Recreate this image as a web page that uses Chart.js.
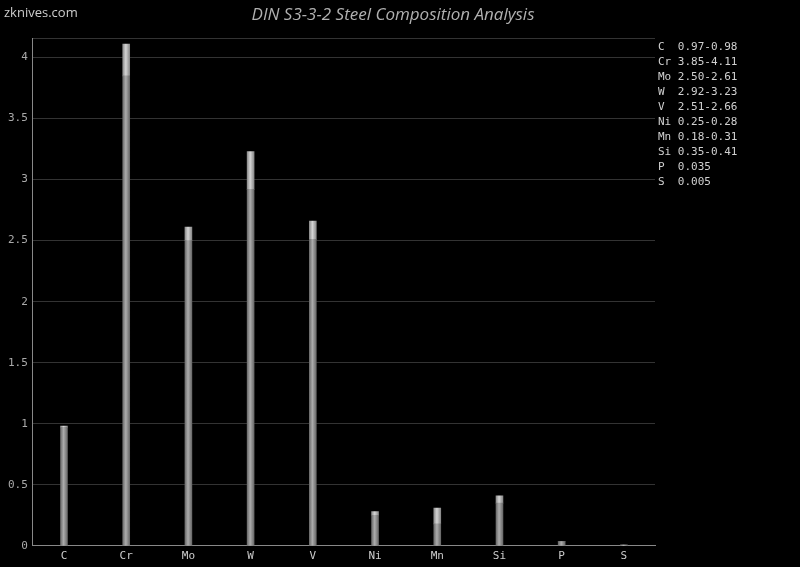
<!DOCTYPE html>
<html>
<head>
<meta charset="utf-8">
<script src="https://cdn.jsdelivr.net/npm/chart.js@4"></script>
<style>
  html, body { margin: 0; padding: 0; background: #000; }
  #wrap { width: 800px; height: 567px; }
</style>
</head>
<body>
<div id="wrap"><canvas id="steelChart"></canvas></div>
<script>
const elements = ["C", "Cr", "Mo", "W", "V", "Ni", "Mn", "Si", "P", "S"];
const minValues = [0.97, 3.85, 2.50, 2.92, 2.51, 0.25, 0.18, 0.35, 0.035, 0.005];
const maxValues = [0.98, 4.11, 2.61, 3.23, 2.66, 0.28, 0.31, 0.41, 0.035, 0.005];
const rangeText = ["0.97-0.98", "3.85-4.11", "2.50-2.61", "2.92-3.23", "2.51-2.66",
  "0.25-0.28", "0.18-0.31", "0.35-0.41", "0.035", "0.005"];

const MONO = "'DejaVu Sans Mono', monospace";

// cylinder-like horizontal gradient for each bar
function barGradient(context, light) {
  const chart = context.chart;
  if (!chart.chartArea) return light ? "#bbb" : "#888";
  const x = chart.scales.x.getPixelForValue(context.dataIndex);
  const g = chart.ctx.createLinearGradient(x - 4, 0, x + 4, 0);
  if (light) {
    g.addColorStop(0, "#808080");
    g.addColorStop(0.45, "#d4d4d4");
    g.addColorStop(1, "#808080");
  } else {
    g.addColorStop(0, "#606060");
    g.addColorStop(0.45, "#acacac");
    g.addColorStop(1, "#606060");
  }
  return g;
}

const overlay = {
  id: "overlay",
  afterDraw(chart) {
    const ctx = chart.ctx;
    ctx.save();
    ctx.textBaseline = "middle";
    ctx.fillStyle = "#ccc";
    ctx.font = "13px 'Open Sans', sans-serif";
    ctx.textAlign = "left";
    ctx.fillText("zknives.com", 4, 13);

    ctx.fillStyle = "#b0b0b0";
    ctx.font = "italic 17px 'Open Sans', sans-serif";
    ctx.textAlign = "center";
    ctx.fillText("DIN S3-3-2 Steel Composition Analysis", 393, 15);

    ctx.fillStyle = "#d0d0d0";
    ctx.font = "11px " + MONO;
    ctx.textAlign = "left";
    elements.forEach((el, i) => {
      ctx.fillText(el.padEnd(2, " ") + " " + rangeText[i], 658, 47 + i * 15);
    });
    ctx.restore();
  }
};

new Chart(document.getElementById("steelChart"), {
  type: "bar",
  data: {
    labels: elements,
    datasets: [
      {
        label: "min",
        data: minValues,
        backgroundColor: (c) => barGradient(c, false),
        barThickness: 7,
        stack: "s"
      },
      {
        label: "range",
        data: maxValues.map((v, i) => +(v - minValues[i]).toFixed(3)),
        backgroundColor: (c) => barGradient(c, true),
        barThickness: 7,
        stack: "s"
      }
    ]
  },
  options: {
    responsive: true,
    maintainAspectRatio: false,
    animation: false,
    layout: { padding: { top: 38, right: 145, left: 3, bottom: 0 } },
    plugins: {
      legend: { display: false },
      title: { display: false },
      tooltip: { enabled: false }
    },
    scales: {
      x: {
        stacked: true,
        grid: { display: false, drawTicks: false },
        border: { color: "#888", width: 1 },
        ticks: { color: "#ccc", font: { family: MONO, size: 11 }, padding: 4 }
      },
      y: {
        stacked: true,
        min: 0,
        max: 4.16,
        grid: { color: "#333", drawTicks: false },
        border: { color: "#888", width: 1 },
        ticks: {
          stepSize: 0.5,
          color: "#aaa",
          font: { family: MONO, size: 11 },
          padding: 5,
          callback: (v) => (v > 4.1 ? "" : v)
        }
      }
    }
  },
  plugins: [overlay]
});
</script>
</body>
</html>
